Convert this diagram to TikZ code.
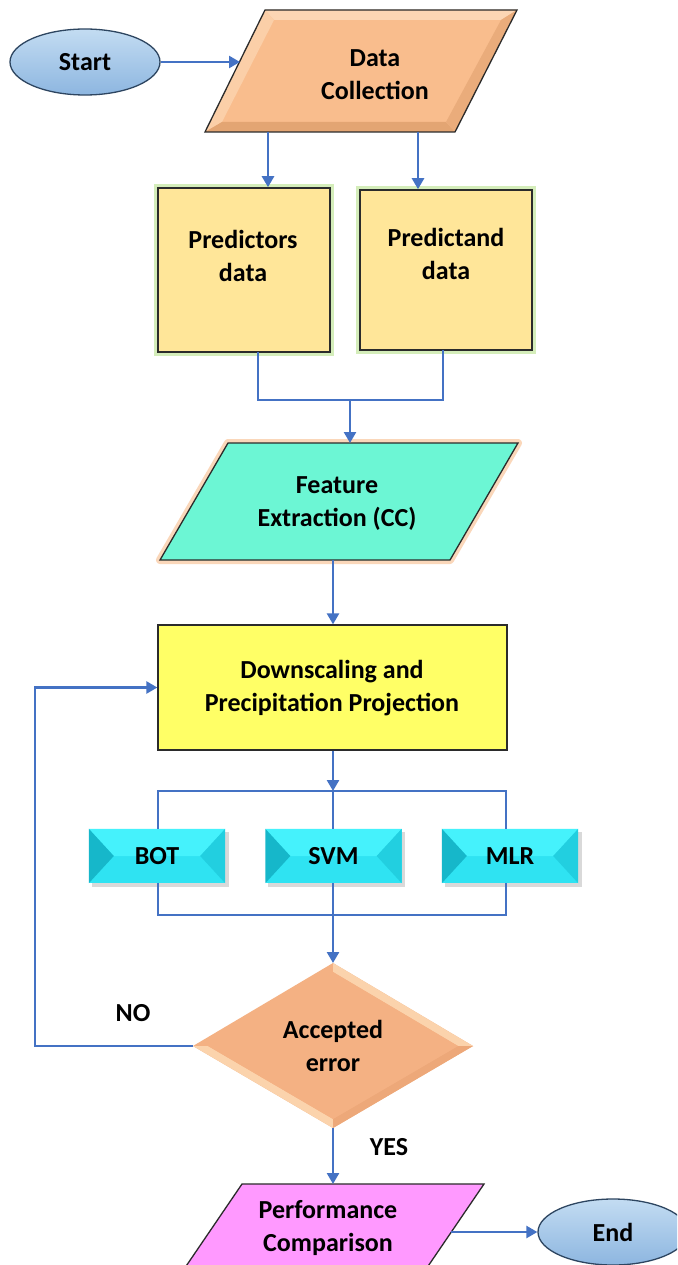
\documentclass[tikz,border=0pt]{standalone}
\usepackage{fontspec}
\setmainfont{Carlito}
\usetikzlibrary{arrows.meta,shapes.geometric}
\definecolor{arrowblue}{HTML}{4472C4}
\definecolor{peach}{HTML}{F9BD8D}
\definecolor{peachL}{HTML}{FCD6B4}
\definecolor{peachD}{HTML}{E3A573}
\definecolor{gold}{HTML}{FFE699}
\definecolor{glowgreen}{HTML}{CDEBAE}
\definecolor{aqua}{HTML}{6CF6D4}
\definecolor{gloworange}{HTML}{FAD0AE}
\definecolor{yel}{HTML}{FFFF66}
\definecolor{cyanM}{HTML}{2FE3F2}
\definecolor{cyanT}{HTML}{45F2FC}
\definecolor{cyanLf}{HTML}{16B7CA}
\definecolor{cyanRt}{HTML}{22CFE0}
\definecolor{dia}{HTML}{F4B183}
\definecolor{diaL}{HTML}{FBD3AC}
\definecolor{diaD}{HTML}{E9A272}
\definecolor{violet}{HTML}{FF99FF}
\definecolor{ellT}{HTML}{C3DCF2}
\definecolor{ellB}{HTML}{8DB6E0}
\definecolor{ellborder}{HTML}{2D4560}
\definecolor{edge}{HTML}{2B2B2B}
\newcommand\cyanfacets[1]{%
  \fill[cyanT] (#1.north west) -- (#1.north east) -- ([xshift=-25pt]#1.east) -- ([xshift=25pt]#1.west) -- cycle;
  \fill[cyanLf] (#1.north west) -- (#1.south west) -- ([xshift=25pt]#1.west) -- cycle;
  \fill[cyanRt] (#1.north east) -- (#1.south east) -- ([xshift=-25pt]#1.east) -- cycle;
}
\begin{document}
\begin{tikzpicture}[x=1pt,y=-1pt,
  conn/.style={draw=arrowblue, line width=2.5pt},
  arr/.style={conn, -{Triangle[length=11pt,width=12pt]}},
  txt/.style={font=\bfseries\fontsize{26}{33}\selectfont, align=center, text=black, inner sep=0pt},
  ellnode/.style={ellipse, draw=ellborder, line width=1.3pt, top color=ellT, bottom color=ellB,
     minimum width=150pt, minimum height=66pt, font=\bfseries\fontsize{26}{30}\selectfont, inner sep=0pt},
  goldbox/.style={rectangle, draw=edge, line width=1.6pt, fill=gold, inner sep=0pt},
  cyanbox/.style={rectangle, fill=cyanM, minimum width=136pt, minimum height=54pt, inner sep=0pt},
  ]
\path[use as bounding box] (0,0) rectangle (677,1265);
\clip (0,0) rectangle (677,1265);
\fill[white] (0,0) rectangle (677,1265);

% ---------- Start
\node[ellnode] (start) at (85,62) {Start};

% ---------- Data Collection (bevelled parallelogram)
\coordinate (dcTL) at (265,10);
\coordinate (dcTR) at (517,10);
\coordinate (dcBR) at (455,132);
\coordinate (dcBL) at (205,132);
\coordinate (dciTL) at (274,20);
\coordinate (dciTR) at (501,20);
\coordinate (dciBR) at (446,122);
\coordinate (dciBL) at (222,122);
\fill[peach] (dcTL) -- (dcTR) -- (dcBR) -- (dcBL) -- cycle;
\fill[peachL] (dcTL) -- (dcTR) -- (dciTR) -- (dciTL) -- cycle;
\fill[peachL!70!peach] (dcTL) -- (dciTL) -- (dciBL) -- (dcBL) -- cycle;
\fill[peachD] (dcBL) -- (dciBL) -- (dciBR) -- (dcBR) -- cycle;
\fill[peachD!70!peach] (dcTR) -- (dcBR) -- (dciBR) -- (dciTR) -- cycle;
\draw[edge, line width=1.3pt] (dcTL) -- (dcTR) -- (dcBR) -- (dcBL) -- cycle;
\node[txt] (dc) at (375,75) {Data\\Collection};
\coordinate (dcIn) at (240,62);
\coordinate (dcOut1) at (268,132);
\coordinate (dcOut2) at (418,132);

% ---------- Predictors / Predictand
\draw[glowgreen, line width=8pt, opacity=0.85] (158,188) rectangle (330,352);
\draw[glowgreen, line width=8pt, opacity=0.85] (360,190) rectangle (532,350);
\node[goldbox, minimum width=172pt, minimum height=164pt] (pred) at (244,270) {};
\node[goldbox, minimum width=172pt, minimum height=160pt] (pdnd) at (446,270) {};
\node[txt] at (243,256) {Predictors\\data};
\node[txt] at (446,254) {Predictand\\data};
\coordinate (predOut) at (258,352);
\coordinate (pdndOut) at (443,350);
\coordinate (mergeL) at (258,400);
\coordinate (mergeR) at (443,400);
\coordinate (mergeM) at (350,400);

% ---------- Feature Extraction
\coordinate (feTL) at (228,443);
\coordinate (feTR) at (518,443);
\coordinate (feBR) at (450,560);
\coordinate (feBL) at (160,560);
\draw[gloworange, line width=8pt, line join=round, opacity=0.85] (feTL) -- (feTR) -- (feBR) -- (feBL) -- cycle;
\fill[aqua] (feTL) -- (feTR) -- (feBR) -- (feBL) -- cycle;
\draw[edge, line width=1.3pt] (feTL) -- (feTR) -- (feBR) -- (feBL) -- cycle;
\node[txt] (fe) at (337,504) {Feature\\Extraction (CC)};
\coordinate (feIn) at (350,443);
\coordinate (feOut) at (333,560);

% ---------- Downscaling
\node[rectangle, draw=edge, line width=1.3pt, fill=yel, minimum width=349pt, minimum height=125pt, inner sep=0pt] (ds) at (332.5,687.5) {};
\node[txt] at (332,688) {Downscaling and\\Precipitation Projection};

% ---------- Models
\fill[gray!30] (92,832) rectangle (229,887);
\fill[gray!30] (268,832) rectangle (405,887);
\fill[gray!30] (445,832) rectangle (582,887);
\node[cyanbox] (bot) at (157,856) {};
\cyanfacets{bot}
\node[cyanbox] (svm) at (333.5,856) {};
\cyanfacets{svm}
\node[cyanbox] (mlr) at (510,856) {};
\cyanfacets{mlr}
\node[txt] at (bot) {BOT};
\node[txt] at (svm) {SVM};
\node[txt] at (mlr) {MLR};
\coordinate (busT) at (333,791);
\coordinate (busB) at (333,915);

% ---------- Decision diamond
\coordinate (dmT) at (333,963);
\coordinate (dmR) at (473,1046);
\coordinate (dmB) at (333,1128);
\coordinate (dmL) at (193,1046);
\coordinate (dmiT) at (333,972);
\coordinate (dmiR) at (458,1046);
\coordinate (dmiB) at (333,1119);
\coordinate (dmiL) at (208,1046);
\fill[dia] (dmT) -- (dmR) -- (dmB) -- (dmL) -- cycle;
\fill[diaL] (dmT) -- (dmR) -- (dmiR) -- (dmiT) -- cycle;
\fill[diaL] (dmL) -- (dmB) -- (dmiB) -- (dmiL) -- cycle;
\fill[diaD!60!dia] (dmB) -- (dmR) -- (dmiR) -- (dmiB) -- cycle;
\fill[dia] (dmiT) -- (dmiR) -- (dmiB) -- (dmiL) -- cycle;
\node[txt] (acc) at (333,1046) {Accepted\\error};
\node[txt] (no) at (133,1013) {NO};
\node[txt] (yes) at (389,1147) {YES};
\coordinate (loopBL) at (35,1046);

% ---------- Performance comparison
\coordinate (pcTL) at (242,1184);
\coordinate (pcTR) at (484,1184);
\coordinate (pcBR) at (405,1300);
\coordinate (pcBL) at (163,1300);
\fill[violet] (pcTL) -- (pcTR) -- (pcBR) -- (pcBL) -- cycle;
\draw[edge, line width=1.3pt] (pcTL) -- (pcTR) -- (pcBR) -- (pcBL) -- cycle;
\node[txt] (pc) at (328,1228) {Performance\\Comparison};
\coordinate (pcIn) at (333,1184);
\coordinate (pcOut) at (451,1232);

% ---------- End
\node[ellnode] (end) at (613,1232) {End};

% ---------- Connectors
\draw[arr] (start.east) -- (dcIn);
\draw[arr] (dcOut1) -- (dcOut1 |- pred.north);
\draw[arr] (dcOut2) -- (dcOut2 |- pdnd.north);
\draw[conn] (predOut) -- (mergeL) -- (mergeR) -- (pdndOut);
\draw[arr] (mergeM) -- (feIn);
\draw[arr] (feOut) -- (feOut |- ds.north);
\draw[arr] (ds.south -| busT) -- (busT);
\draw[conn] (bot.north -| 158,0) -- (158,791) -- (506,791) -- (mlr.north -| 506,0);
\draw[conn] (busT) -- (busT |- svm.north);
\draw[conn] (bot.south -| 158,0) -- (158,915) -- (506,915) -- (mlr.south -| 506,0);
\draw[conn] (busB |- svm.south) -- (busB);
\draw[arr] (busB) -- (dmT);
\draw[arr] (dmL) -- (loopBL) -- (loopBL |- ds.west) -- (ds.west);
\draw[arr] (dmB) -- (pcIn);
\draw[arr] (pcOut) -- (end.west);
\end{tikzpicture}
\end{document}
